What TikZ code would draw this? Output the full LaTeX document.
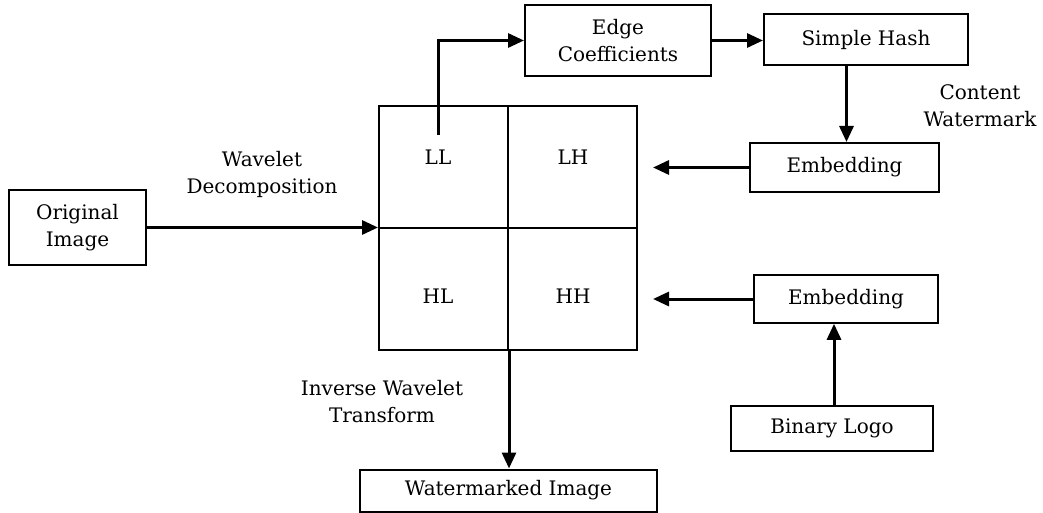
\documentclass[tikz,border=0pt]{standalone}
\usepackage{fontspec}
\setmainfont{DejaVu Serif}
\usetikzlibrary{arrows.meta}
\tikzset{
  block/.style={rectangle, draw, line width=2pt, align=center, inner sep=0pt},
  cell/.style={rectangle, draw, line width=2pt, minimum width=129pt, minimum height=122pt, inner sep=0pt},
  caption/.style={align=center, inner sep=0pt},
  flow/.style={line width=3pt, -{Triangle[length=16pt,width=14pt]}}
}

\begin{document}
\begin{tikzpicture}[x=1pt, y=-1pt, font=\fontsize{20}{27}\selectfont]
  \useasboundingbox (0,0) rectangle (1043,513);

  % boxes
  \node[block, minimum width=137pt, minimum height=75pt] (orig) at (77.5,227.5) {Original\\Image};
  \node[block, minimum width=186pt, minimum height=71pt] (edge) at (618,40.5) {Edge\\Coefficients};
  \node[block, minimum width=204pt, minimum height=51pt] (hash) at (866,39.5) {Simple Hash};
  \node[block, minimum width=189pt, minimum height=49pt] (emba) at (844.5,167.5) {Embedding};
  \node[block, minimum width=184pt, minimum height=48pt, line width=1.6pt] (embb) at (846,299) {Embedding};
  \node[block, minimum width=202pt, minimum height=45pt] (logo) at (832,428.5) {Binary Logo};
  \node[block, minimum width=297pt, minimum height=42pt] (wimg) at (508.5,490.5) {Watermarked Image};

  % sub-bands
  \node[cell] (ll) at (443.5,167) {};
  \node[cell] (lh) at (572.5,167) {};
  \node[cell] (hl) at (443.5,289) {};
  \node[cell] (hh) at (572.5,289) {};
  \node at (438,157) {LL};
  \node at (573,157) {LH};
  \node at (438,296) {HL};
  \node at (573,296) {HH};

  % captions
  \node[caption] (wdec) at (262,174.5) {Wavelet\\Decomposition};
  \node[caption] (cwm) at (980,105.5) {Content\\Watermark};
  \node[caption] (iwt) at (382,401.5) {Inverse Wavelet\\Transform};

  % flow
  \coordinate (llout) at (438,135);
  \draw[flow] (orig.east) -- (orig.east -| ll.west);
  \draw[flow] (llout) |- (edge.west);
  \draw[flow] (edge.east) -- (edge.east -| hash.west);
  \draw[flow] ([xshift=2pt]emba.north |- hash.south) -- ([xshift=2pt]emba.north);
  \draw[flow, shorten >=15pt] (emba.west) -- (emba.west -| lh.east);
  \draw[flow, shorten >=15pt] (embb.west) -- (embb.west -| hh.east);
  \draw[flow] ([xshift=2pt]logo.north) -- ([xshift=2pt]logo.north |- embb.south);
  \draw[flow] (hl.south east) -- (wimg.north -| hl.south east);
\end{tikzpicture}
\end{document}
